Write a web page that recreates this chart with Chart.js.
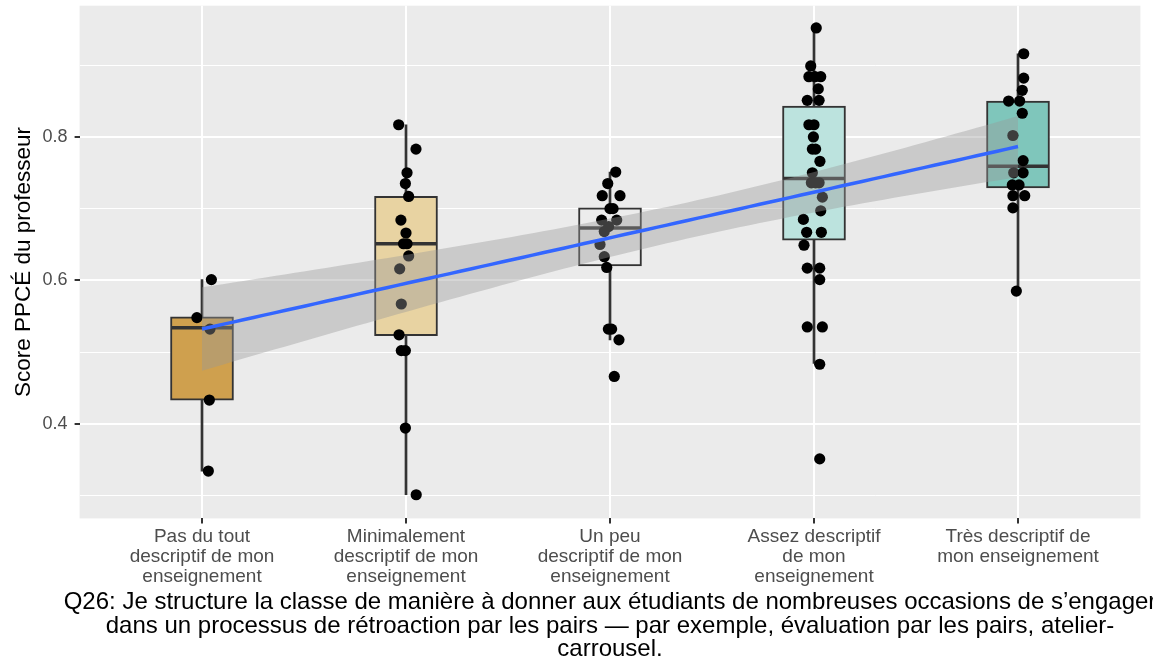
<!DOCTYPE html>
<html>
<head>
<meta charset="utf-8">
<script src="https://cdn.jsdelivr.net/npm/chart.js@4"></script>
<style>
html, body { margin: 0; padding: 0; background: #fff; }
canvas { display: block; }
</style>
</head>
<body>
<canvas id="chart" width="1153" height="663"></canvas>
<script>
// Catégories de réponse (axe x)
const categoryLabels = [
  ['Pas du tout', 'descriptif de mon', 'enseignement'],
  ['Minimalement', 'descriptif de mon', 'enseignement'],
  ['Un peu', 'descriptif de mon', 'enseignement'],
  ['Assez descriptif', 'de mon', 'enseignement'],
  ['Très descriptif de', 'mon enseignement']
];

// Scores PPCÉ par catégorie
const scores0 = [0.601, 0.548, 0.532, 0.433, 0.334];
const scores1 = [0.817, 0.783, 0.750, 0.735, 0.717, 0.684, 0.666, 0.651, 0.651, 0.634, 0.616, 0.567, 0.524, 0.502, 0.502, 0.394, 0.301];
const scores2 = [0.751, 0.735, 0.718, 0.718, 0.700, 0.700, 0.684, 0.684, 0.675, 0.668, 0.650, 0.633, 0.618, 0.532, 0.532, 0.517, 0.466];
const scores3 = [0.952, 0.899, 0.884, 0.884, 0.884, 0.867, 0.851, 0.851, 0.817, 0.817, 0.800, 0.783, 0.783, 0.766, 0.750, 0.736, 0.736, 0.736, 0.716, 0.697, 0.685, 0.667, 0.667, 0.649, 0.617, 0.617, 0.601, 0.535, 0.535, 0.483, 0.351];
const scores4 = [0.916, 0.882, 0.865, 0.850, 0.850, 0.833, 0.802, 0.767, 0.750, 0.750, 0.733, 0.733, 0.718, 0.718, 0.701, 0.585];

// Décalage horizontal (jitter) de chaque point, en unités de catégorie
const jitter0 = [0.046, -0.025, 0.039, 0.036, 0.031];
const jitter1 = [-0.036, 0.049, 0.005, -0.003, 0.013, -0.025, 0, -0.012, 0.005, 0.013, -0.031, -0.023, -0.034, -0.023, -0.003, -0.003, 0.050];
const jitter2 = [0.028, -0.011, -0.038, 0.049, 0, 0.015, -0.041, 0.033, -0.007, -0.028, -0.049, -0.028, -0.016, -0.008, 0.008, 0.044, 0.021];
const jitter3 = [0.011, -0.016, -0.025, 0.033, 0.005, 0.021, -0.033, 0.025, -0.025, 0, -0.003, -0.008, 0.008, 0.029, -0.008, -0.013, 0.008, 0.025, 0.041, 0.033, -0.052, -0.036, 0.036, -0.049, -0.033, 0.028, 0.028, -0.033, 0.041, 0.028, 0.028];
const jitter4 = [0.028, 0.028, 0.021, -0.046, 0.008, 0.021, -0.025, 0.025, -0.021, 0.025, -0.028, 0.005, -0.025, 0.033, -0.025, -0.008];

// Statistiques des boîtes
const whiskerLow = [0.334, 0.301, 0.517, 0.484, 0.585];
const boxQ1      = [0.433, 0.523, 0.620, 0.656, 0.729];
const boxMedian  = [0.534, 0.651, 0.673, 0.742, 0.759];
const boxQ3      = [0.549, 0.717, 0.701, 0.843, 0.850];
const whiskerHigh = [0.601, 0.817, 0.751, 0.952, 0.916];

// Graduations de l'axe y
const yMajorTicks = [0.4, 0.6, 0.8];
const yMinorTicks = [0.3, 0.5, 0.7, 0.9];

const boxColors = ['#CFA04E', '#E8D3A2', '#ECECEC', '#BCE3DE', '#7FC6BB'];
const fontFamily = '"Liberation Sans", Arial, Helvetica, sans-serif';

const captionLines = [
  'Q26: Je structure la classe de manière à donner aux étudiants de nombreuses occasions de s’engager',
  'dans un processus de rétroaction par les pairs — par exemple, évaluation par les pairs, atelier-',
  'carrousel.'
];

// Points individuels
const groups = [scores0, scores1, scores2, scores3, scores4];
const jitters = [jitter0, jitter1, jitter2, jitter3, jitter4];
const pointData = [];
groups.forEach((g, i) => g.forEach((v, k) => pointData.push({ x: i + jitters[i][k], y: v })));

// Régression linéaire (comme geom_smooth(method = "lm")) avec IC 95 %
const xs = [], ys = [];
groups.forEach((g, i) => g.forEach(v => { xs.push(i); ys.push(v); }));
const n = xs.length;
const xMean = xs.reduce((a, b) => a + b, 0) / n;
const yMean = ys.reduce((a, b) => a + b, 0) / n;
let sxx = 0, sxy = 0;
for (let k = 0; k < n; k++) {
  sxx += (xs[k] - xMean) ** 2;
  sxy += (xs[k] - xMean) * (ys[k] - yMean);
}
const slope = sxy / sxx;
const intercept = yMean - slope * xMean;
let sse = 0;
for (let k = 0; k < n; k++) sse += (ys[k] - intercept - slope * xs[k]) ** 2;
const sigma = Math.sqrt(sse / (n - 2));
const tCrit = 1.989; // t(0.975, n - 2)

const fitLine = [], bandHigh = [], bandLow = [];
const xLast = groups.length - 1;
for (let k = 0; k < 80; k++) {
  const x = xLast * k / 79;
  const yHat = intercept + slope * x;
  const se = sigma * Math.sqrt(1 / n + (x - xMean) ** 2 / sxx);
  fitLine.push({ x: x, y: yHat });
  bandHigh.push({ x: x, y: yHat + tCrit * se });
  bandLow.push({ x: x, y: yHat - tCrit * se });
}

const isMajor = v => yMajorTicks.some(t => Math.abs(t - v) < 1e-9);

// pas de marge automatique autour des axes
function noPadding(s) {
  s.paddingTop = 0;
  s.paddingBottom = 0;
  s.paddingLeft = 0;
  s.paddingRight = 0;
}

// Fond gris du panneau
const panelBackground = {
  id: 'panelBackground',
  beforeDraw(chart) {
    const { ctx, chartArea: a } = chart;
    ctx.save();
    ctx.fillStyle = '#EBEBEB';
    ctx.fillRect(a.left, a.top, a.right - a.left, a.bottom - a.top);
    ctx.restore();
  }
};

// Titre de l'axe x (centré sur le panneau, sans compression)
const captionPlugin = {
  id: 'caption',
  afterDraw(chart) {
    const { ctx, chartArea: a } = chart;
    ctx.save();
    ctx.font = '24px ' + fontFamily;
    ctx.fillStyle = '#000000';
    ctx.textAlign = 'center';
    ctx.textBaseline = 'middle';
    const cx = (a.left + a.right) / 2;
    captionLines.forEach((line, i) => {
      ctx.fillText(line, cx, a.bottom + 84 + i * 23.5);
    });
    ctx.restore();
  }
};

new Chart(document.getElementById('chart'), {
  type: 'scatter',
  data: {
    datasets: [
      {
        type: 'bar',
        data: boxQ1.map((q1, i) => ({ x: i, y: [whiskerLow[i], q1] })),
        backgroundColor: '#333333',
        barThickness: 2,
        grouped: false,
        order: 11
      },
      {
        type: 'bar',
        data: boxQ3.map((q3, i) => ({ x: i, y: [q3, whiskerHigh[i]] })),
        backgroundColor: '#333333',
        barThickness: 2,
        grouped: false,
        order: 11
      },
      {
        type: 'bar',
        data: boxQ1.map((q1, i) => ({ x: i, y: [q1, boxQ3[i]] })),
        backgroundColor: boxColors,
        borderColor: '#333333',
        borderWidth: 2,
        borderSkipped: false,
        barThickness: 63,
        grouped: false,
        order: 10
      },
      {
        type: 'scatter',
        data: boxMedian.map((m, i) => ({ x: i, y: m })),
        pointStyle: 'line',
        pointRadius: 31,
        borderColor: '#333333',
        borderWidth: 3.5,
        order: 9
      },
      {
        type: 'scatter',
        data: pointData,
        pointRadius: 5.6,
        backgroundColor: '#000000',
        borderWidth: 0,
        order: 8
      },
      {
        type: 'line',
        data: bandHigh,
        borderWidth: 0,
        pointRadius: 0,
        fill: '+1',
        backgroundColor: 'rgba(153,153,153,0.4)',
        order: 3
      },
      {
        type: 'line',
        data: bandLow,
        borderWidth: 0,
        pointRadius: 0,
        fill: false,
        order: 3
      },
      {
        type: 'line',
        data: fitLine,
        borderColor: '#3366FF',
        borderWidth: 3.5,
        pointRadius: 0,
        fill: false,
        order: 1
      }
    ]
  },
  options: {
    responsive: false,
    animation: false,
    events: [],
    layout: { autoPadding: false, padding: { top: 5.7, right: 12.6, left: 0, bottom: 0 } },
    plugins: {
      legend: { display: false },
      tooltip: { enabled: false }
    },
    scales: {
      x: {
        type: 'linear',
        min: -0.6,
        max: 4.6,
        offset: false,
        afterBuildTicks: s => { s.ticks = categoryLabels.map((_, i) => ({ value: i })); },
        afterFit: s => { s.height = 144.6; noPadding(s); },
        border: { display: false },
        grid: {
          offset: false,
          color: '#FFFFFF',
          lineWidth: 2,
          tickColor: '#333333',
          tickLength: 5,
          tickWidth: 2
        },
        ticks: {
          callback: v => categoryLabels[v],
          color: '#4D4D4D',
          font: { family: fontFamily, size: 19, lineHeight: 1.03 },
          padding: 4,
          maxRotation: 0,
          autoSkip: false
        }
      },
      y: {
        min: 0.268,
        max: 0.983,
        offset: false,
        afterBuildTicks: s => {
          s.ticks = yMinorTicks.concat(yMajorTicks).sort((a, b) => a - b).map(v => ({ value: v }));
        },
        afterFit: s => { s.width = 79.6; noPadding(s); },
        border: { display: false },
        grid: {
          color: '#FFFFFF',
          lineWidth: c => (c.tick && isMajor(c.tick.value) ? 2 : 1),
          tickColor: c => (c.tick && isMajor(c.tick.value) ? '#333333' : 'rgba(0,0,0,0)'),
          tickLength: 5,
          tickWidth: 2
        },
        ticks: {
          callback: v => (isMajor(v) ? v.toFixed(1) : ''),
          color: '#4D4D4D',
          font: { family: fontFamily, size: 18 },
          padding: 7
        },
        title: {
          display: true,
          text: 'Score PPCÉ du professeur',
          color: '#000000',
          font: { family: fontFamily, size: 22.5, lineHeight: 1.2 },
          padding: { top: 10, bottom: 0 }
        }
      }
    }
  },
  plugins: [panelBackground, captionPlugin]
});
</script>
</body>
</html>
